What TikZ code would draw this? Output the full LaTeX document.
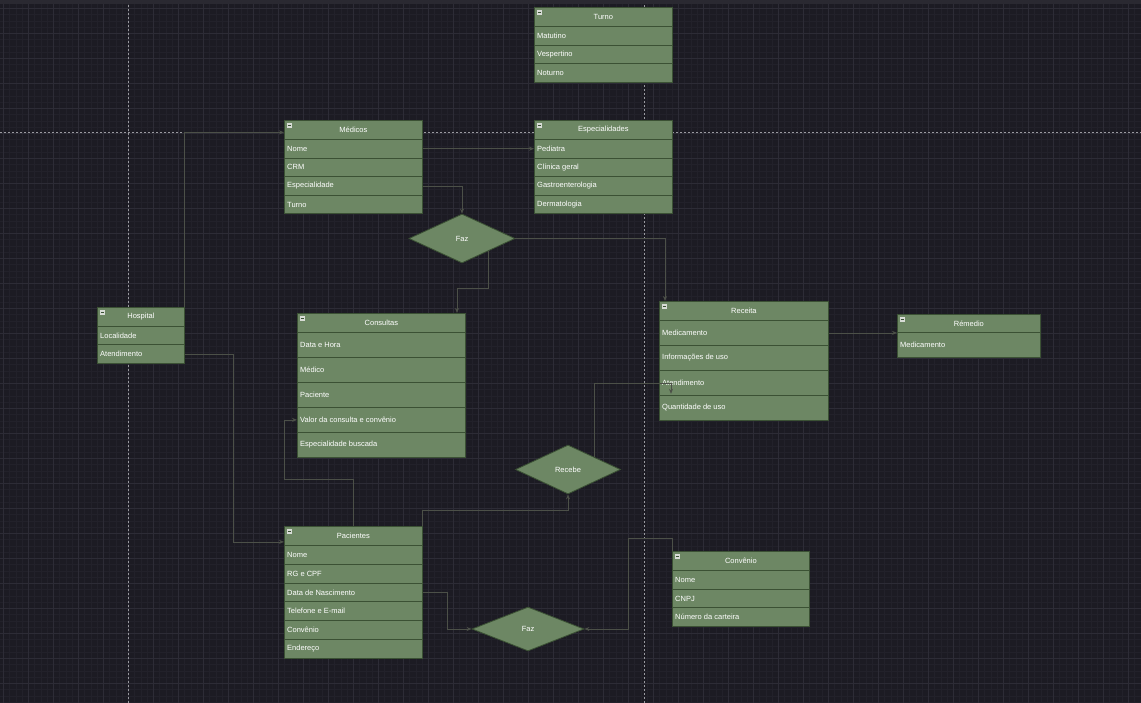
\documentclass[tikz,border=0pt]{standalone}
\usepackage{fontspec}
\setmainfont{Liberation Sans}
\usetikzlibrary{shapes.geometric,arrows.meta,calc}
\definecolor{bg}{HTML}{1C1B23}
\definecolor{topband}{HTML}{2A2931}
\definecolor{gridminor}{HTML}{22212A}
\definecolor{gridmajor}{HTML}{2D2C36}
\definecolor{pagebreak}{HTML}{9A9AA0}
\definecolor{ergreen}{HTML}{6D8764}
\definecolor{erline}{HTML}{3B5134}
\definecolor{conncol}{HTML}{4C5048}
\definecolor{iconcol}{HTML}{D8DCD6}
\newcommand\ertable[8]{%
  \node[erhdr, minimum width=#4, minimum height=#5] (#1) at (#2,#3) {#7};
  \foreach \t [count=\i] in {#8} {
    \node[errow, minimum width=#4, minimum height=#6, label={[erlbl]west:\t}] (#1\i) at ($(#2,#3)+(0,#5)+(0,{(\i-1)*#6})$) {};
  }%
}
\begin{document}
\begin{tikzpicture}[x=1pt,y={(0pt,-1pt)},
  txt/.style={text=white, font=\fontsize{7.5}{8.5}\selectfont},
  erbox/.style={draw=erline, fill=ergreen, line width=0.8pt, inner sep=0pt, anchor=north west},
  erhdr/.style={erbox, txt, path picture={
      \fill[iconcol] ([xshift=2.5pt,yshift=-3pt]path picture bounding box.north west) rectangle ++(5pt,-4.5pt);
      \draw[erline, line width=0.5pt] ([xshift=3.5pt,yshift=-5.25pt]path picture bounding box.north west) -- ++(3pt,0pt);}},
  errow/.style={erbox},
  erlbl/.style={txt, anchor=west, inner sep=0pt, xshift=3pt},
  rel/.style={diamond, draw=erline, fill=ergreen, line width=0.8pt, inner sep=0pt, txt},
  conn/.style={draw=conncol, line width=0.7pt, -{Stealth[length=5pt,width=4pt]}},
  pbreak/.style={draw=pagebreak, line width=0.7pt, dash pattern=on 2pt off 2pt}]
\useasboundingbox (0,0) rectangle (1141,703);
% background and grid
\fill[bg] (0,0) rectangle (1141,703);
\foreach \x in {3.3,9.55,...,1141} \draw[gridminor, line width=0.4pt] (\x,4) -- (\x,703);
\foreach \y in {8.3,14.55,...,703} \draw[gridminor, line width=0.4pt] (0,\y) -- (1141,\y);
\foreach \x in {3.3,28.3,...,1141} \draw[gridmajor, line width=0.5pt] (\x,4) -- (\x,703);
\foreach \y in {8.3,33.3,...,703} \draw[gridmajor, line width=0.5pt] (0,\y) -- (1141,\y);
\fill[topband] (0,0) rectangle (1141,4);
% page breaks
\draw[pbreak] (128,5) -- (128,703);
\draw[pbreak] (644,5) -- (644,703);
\draw[pbreak] (0,132) -- (1141,132);
% tables
\ertable{tur}{534}{7}{138}{19}{18.7}{Turno}{Matutino,Vespertino,Noturno}
\ertable{med}{284}{120}{138}{19}{18.6}{Médicos}{Nome,CRM,Especialidade,Turno}
\ertable{esp}{534}{120}{138}{19}{18.6}{Especialidades}{Pediatra,Clínica geral,Gastroenterologia,Dermatologia}
\ertable{hosp}{97}{307}{87}{19}{18.5}{Hospital}{Localidade,Atendimento}
\ertable{con}{297}{313}{168}{19}{25}{Consultas}{Data e Hora,Médico,Paciente,Valor da consulta e convênio,Especialidade buscada}
\ertable{rcta}{659}{301}{169}{19}{25}{Receita}{Medicamento,Informações de uso,Atendimento,Quantidade de uso}
\ertable{rem}{897}{314}{143}{18}{25}{Rémedio}{Medicamento}
\ertable{pac}{284}{526}{138}{19}{18.8}{Pacientes}{Nome,RG e CPF,Data de Nascimento,Telefone e E-mail,Convênio,Endereço}
\ertable{conv}{672}{551}{137}{19}{18.7}{Convênio}{Nome,CNPJ,Número da carteira}
% relationships
\node[rel, minimum width=106, minimum height=49] (fazA) at (462,238.5) {Faz};
\node[rel, minimum width=105, minimum height=49] (recebe) at (568,469.5) {Recebe};
\node[rel, minimum width=112, minimum height=44] (fazB) at (528,629) {Faz};
% connectors
\draw[conn] (hosp.north east) |- ([yshift=-2.5pt]med.west);
\draw[conn] (med1.east) -- (esp1.west);
\draw[conn] (med3.east) -| (fazA.north);
\draw[conn] (fazA.east) -| ([xshift=6pt]rcta.north west);
\draw[conn] ($(fazA.east)!0.5!(fazA.south)$) |- ($(con.north west)+(160,-25)$) -- ($(con.north west)+(160,0)$);
\draw[conn] (hosp2.east) -- ++(49,0) |- ([yshift=-6pt]pac.west);
\draw[conn] ($(pac.north west)+(69,0)$) -- ++(0,-47) -- ++(-69,0) |- (con4.west);
\draw[conn] (pac.north east) -- ++(0,-16) -| (recebe.south);
\draw[conn] ($(recebe.north)!0.5!(recebe.east)$) |- ([xshift=12pt]rcta3.west) -- ([xshift=12pt,yshift=2pt]rcta3.south west);
\draw[conn] (rcta1.east) -- (rcta1.east -| rem.south west);
\draw[conn] (pac3.east) -- ++(25,0) |- (fazB.west);
\draw[conn] (conv.north west) -- ++(0,-13) -- ++(-44,0) |- (fazB.east);
\end{tikzpicture}
\end{document}
